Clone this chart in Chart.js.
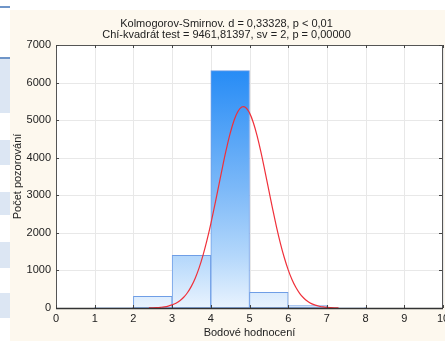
<!DOCTYPE html>
<html>
<head>
<meta charset="utf-8">
<script src="https://cdn.jsdelivr.net/npm/chart.js@4.4.1/dist/chart.umd.min.js"></script>
<style>
  html, body { margin: 0; padding: 0; background: #ffffff; }
  body { width: 445px; height: 341px; position: relative; overflow: hidden; }
  #wrap { position: absolute; left: 10px; top: 10px; width: 435px; height: 331px; background: #fdf8ee; }
  .strip { position: absolute; left: 0; width: 10px; background: #dce6f3; }
  .line { position: absolute; left: 0; width: 10px; height: 2px; background: #6f95c8; }
</style>
</head>
<body>
<div class="line" style="top:6px"></div>
<div class="line" style="top:57px"></div>
<div class="strip" style="top:59px;height:54px"></div>
<div class="strip" style="top:140px;height:25px"></div>
<div class="strip" style="top:192px;height:23px"></div>
<div class="strip" style="top:242px;height:26px"></div>
<div class="strip" style="top:293px;height:25px"></div>
<div id="wrap"><canvas id="c" width="435" height="331"></canvas></div>
<script>
// Histogram bins (center of each unit-wide bin) and observed counts
const binCenters = [0.5, 1.5, 2.5, 3.5, 4.5, 5.5, 6.5, 7.5, 8.5, 9.5];
const counts     = [0,   15,  312, 1405, 6320, 419, 64,  10,  0,   0];
// Fitted normal curve
const curveX = [2.4,2.5,2.6,2.7,2.8,2.9,3.0,3.1,3.2,3.3,3.4,3.5,3.6,3.7,3.8,3.9,4.0,4.1,4.2,4.3,4.4,4.5,4.6,4.7,4.8,4.9,5.0,5.1,5.2,5.3,5.4,5.5,5.6,5.7,5.8,5.9,6.0,6.1,6.2,6.3,6.4,6.5,6.6,6.7,6.8,6.9,7.0,7.1,7.2,7.3];
const curveY = [3,6,11,19,31,51,82,127,193,286,413,583,801,1075,1408,1798,2240,2724,3231,3738,4219,4646,4992,5232,5349,5336,5193,4930,4567,4127,3638,3129,2625,2148,1716,1337,1016,753,545,384,265,178,117,75,47,28,17,10,5,3];
const xTicks = [0,1,2,3,4,5,6,7,8,9,10];
const yTicks = [0,1000,2000,3000,4000,5000,6000,7000];
const titleLines = ['Kolmogorov-Smirnov. d = 0,33328, p < 0,01', 'Chí-kvadrát test = 9461,81397, sv = 2, p = 0,00000'];
const xLabel = 'Bodové hodnocení';
const yLabel = 'Počet pozorování';

const FONT = 'Liberation Sans, Arial, sans-serif';

function barGradient(ctx) {
  const chart = ctx.chart;
  const a = chart.chartArea;
  if (!a) return '#8fc3f8';
  const g = chart.ctx.createLinearGradient(0, a.top, 0, a.bottom);
  g.addColorStop(0, '#1482f5');
  g.addColorStop(0.55, '#7db9f8');
  g.addColorStop(0.8, '#b3d7fb');
  g.addColorStop(1, '#e9f3fe');
  return g;
}

const frame = {
  id: 'frame',
  beforeDatasetsDraw(chart) {
    const {ctx, chartArea: a} = chart;
    ctx.save();
    ctx.fillStyle = '#ffffff';
    ctx.fillRect(a.left, a.top, a.right - a.left, a.bottom - a.top);
    ctx.strokeStyle = '#e8e8e8';
    ctx.lineWidth = 1;
    const xs = chart.scales.x, ys = chart.scales.y;
    xTicks.forEach(v => { const px = Math.round(xs.getPixelForValue(v)) + 0.5; ctx.beginPath(); ctx.moveTo(px, a.top); ctx.lineTo(px, a.bottom); ctx.stroke(); });
    yTicks.forEach(v => { const py = Math.round(ys.getPixelForValue(v)) + 0.5; ctx.beginPath(); ctx.moveTo(a.left, py); ctx.lineTo(a.right, py); ctx.stroke(); });
    ctx.restore();
  },
  afterDatasetsDraw(chart) {
    const {ctx, chartArea: a} = chart;
    const xs = chart.scales.x, ys = chart.scales.y;
    ctx.save();
    ctx.strokeStyle = '#555555';
    ctx.lineWidth = 1;
    ctx.strokeRect(Math.round(a.left) + 0.5, Math.round(a.top) + 0.5, Math.round(a.right - a.left) - 1, Math.round(a.bottom - a.top));
    ctx.strokeStyle = '#444444';
    xTicks.forEach(v => { const px = Math.round(xs.getPixelForValue(v)) + 0.5;
      ctx.beginPath(); ctx.moveTo(px, a.top); ctx.lineTo(px, a.top + 3); ctx.stroke();
      ctx.beginPath(); ctx.moveTo(px, a.bottom); ctx.lineTo(px, a.bottom - 3); ctx.stroke(); });
    yTicks.forEach(v => { const py = Math.round(ys.getPixelForValue(v)) + 0.5;
      ctx.beginPath(); ctx.moveTo(a.right - 1, py); ctx.lineTo(a.right - 4, py); ctx.stroke();
      ctx.beginPath(); ctx.moveTo(a.left, py); ctx.lineTo(a.left + 3, py); ctx.stroke(); });
    ctx.lineWidth = 1.5;
    ctx.strokeStyle = '#333333';
    ctx.beginPath(); ctx.moveTo(a.left, a.bottom + 0.5); ctx.lineTo(a.right, a.bottom + 0.5); ctx.stroke();
    ctx.restore();
  }
};

new Chart(document.getElementById('c'), {
  data: {
    datasets: [
      {
        type: 'line',
        data: curveX.map((x, i) => ({x: x, y: curveY[i]})),
        borderColor: '#f0303a',
        borderWidth: 1.2,
        pointRadius: 0,
        tension: 0.4,
        fill: false,
        order: 0
      },
      {
        type: 'bar',
        data: binCenters.map((x, i) => ({x: x, y: counts[i]})),
        backgroundColor: barGradient,
        borderColor: '#6f9ee6',
        borderWidth: 1,
        borderSkipped: false,
        barPercentage: 1.0,
        categoryPercentage: 1.0,
        order: 1
      }
    ]
  },
  options: {
    responsive: false,
    animation: false,
    devicePixelRatio: 1,
    layout: { padding: { left: 0, right: 2, top: 0, bottom: 0 } },
    plugins: {
      legend: { display: false },
      tooltip: { enabled: false },
      title: {
        display: true,
        text: titleLines,
        color: '#222222',
        font: { family: FONT, size: 11, weight: 'normal', lineHeight: 1.0 },
        padding: { top: 8, bottom: 5 }
      }
    },
    scales: {
      x: {
        type: 'linear',
        min: 0, max: 10,
        offset: false,
        grid: { display: false, drawTicks: false, tickLength: 0 },
        border: { display: false },
        afterBuildTicks(s) { s.ticks = xTicks.map(v => ({value: v})); },
        ticks: { color: '#222222', font: { family: FONT, size: 11 }, padding: 4, maxRotation: 0, autoSkip: false, callback: v => String(v) },
        title: { display: true, text: xLabel, color: '#222222', font: { family: FONT, size: 11 }, padding: { top: 2, bottom: 1 } },
        afterFit(s) { s.height = 33; s.paddingLeft = 0; s.paddingRight = 0; }
      },
      y: {
        min: 0, max: 7000,
        grid: { display: false, drawTicks: false, tickLength: 0 },
        border: { display: false },
        afterBuildTicks(s) { s.ticks = yTicks.map(v => ({value: v})); },
        ticks: { color: '#222222', font: { family: FONT, size: 11 }, padding: 5, callback: v => String(v) },
        title: { display: true, text: yLabel, color: '#222222', font: { family: FONT, size: 11 }, padding: { top: 1, bottom: 0 } },
        afterFit(s) { s.width = 46; s.paddingTop = 0; s.paddingBottom = 0; }
      }
    }
  },
  plugins: [frame]
});
</script>
</body>
</html>
